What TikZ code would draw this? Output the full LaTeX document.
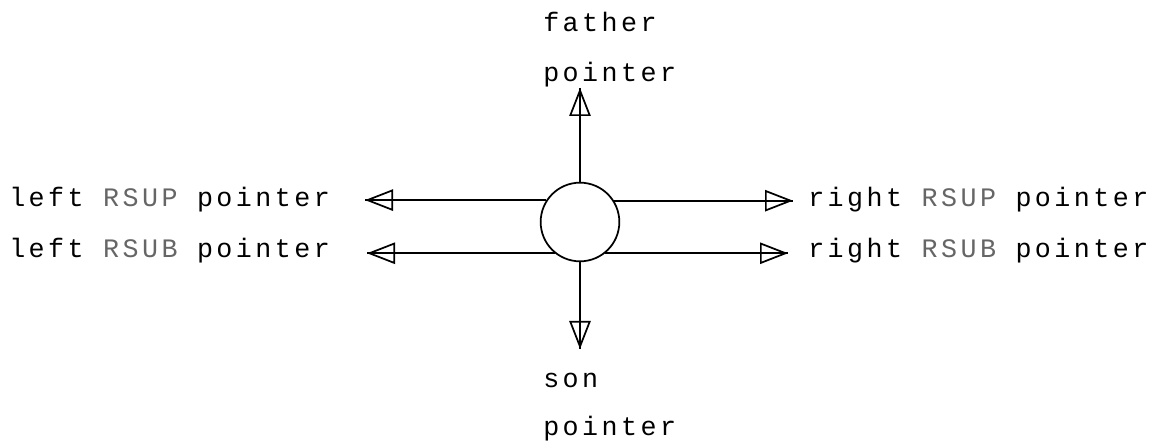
\documentclass[tikz,border=0pt]{standalone}
\usepackage{fontspec}
\setmonofont{Liberation Mono}[LetterSpace=13]
\usetikzlibrary{arrows.meta}
\begin{document}
\begin{tikzpicture}[x=0.75pt,y=-0.75pt,
  lbl/.style={font=\ttfamily\fontsize{20}{24}\selectfont, inner sep=0pt, anchor=base west, text=black},
  hub/.style={circle, draw, line width=1.3pt, minimum size=59pt, inner sep=0pt},
  ptr/.style={draw, line width=1.3pt, postaction={draw, line width=1.3pt, -{Triangle[open, length=21pt, width=16pt, line width=1.3pt]}}}]
\useasboundingbox (0,0) rectangle (1157,441);
\node[hub] (c) at (580,222) {};
% tips
\coordinate (up) at (580,88);
\coordinate (dn) at (580,349);
\coordinate (ul) at (365,201);
\coordinate (ur) at (793,201);
\coordinate (ll) at (367,253);
\coordinate (lr) at (788,253);
\path[ptr] (c.north) -- (up);
\path[ptr] (c.south) -- (dn);
\path[ptr] (c.147.9) -- (c.147.9 -| ul);
\path[ptr] (c.32.1) -- (c.32.1 -| ur);
\path[ptr] (c.231.7) -- (c.231.7 -| ll);
\path[ptr] (c.-51.7) -- (c.-51.7 -| lr);
% labels
\node[lbl] (t1) at (543,32) {father};
\node[lbl] (t2) at (543,82) {pointer};
\node[lbl] (b1) at (543,388) {son};
\node[lbl] (b2) at (543,436) {pointer};
\node[lbl] (l1) at (9,207) {left \textcolor{black!60}{RSUP} pointer};
\node[lbl] (l2) at (9,258) {left \textcolor{black!60}{RSUB} pointer};
\node[lbl] (r1) at (808,207) {right \textcolor{black!60}{RSUP} pointer};
\node[lbl] (r2) at (808,258) {right \textcolor{black!60}{RSUB} pointer};
\end{tikzpicture}
\end{document}
